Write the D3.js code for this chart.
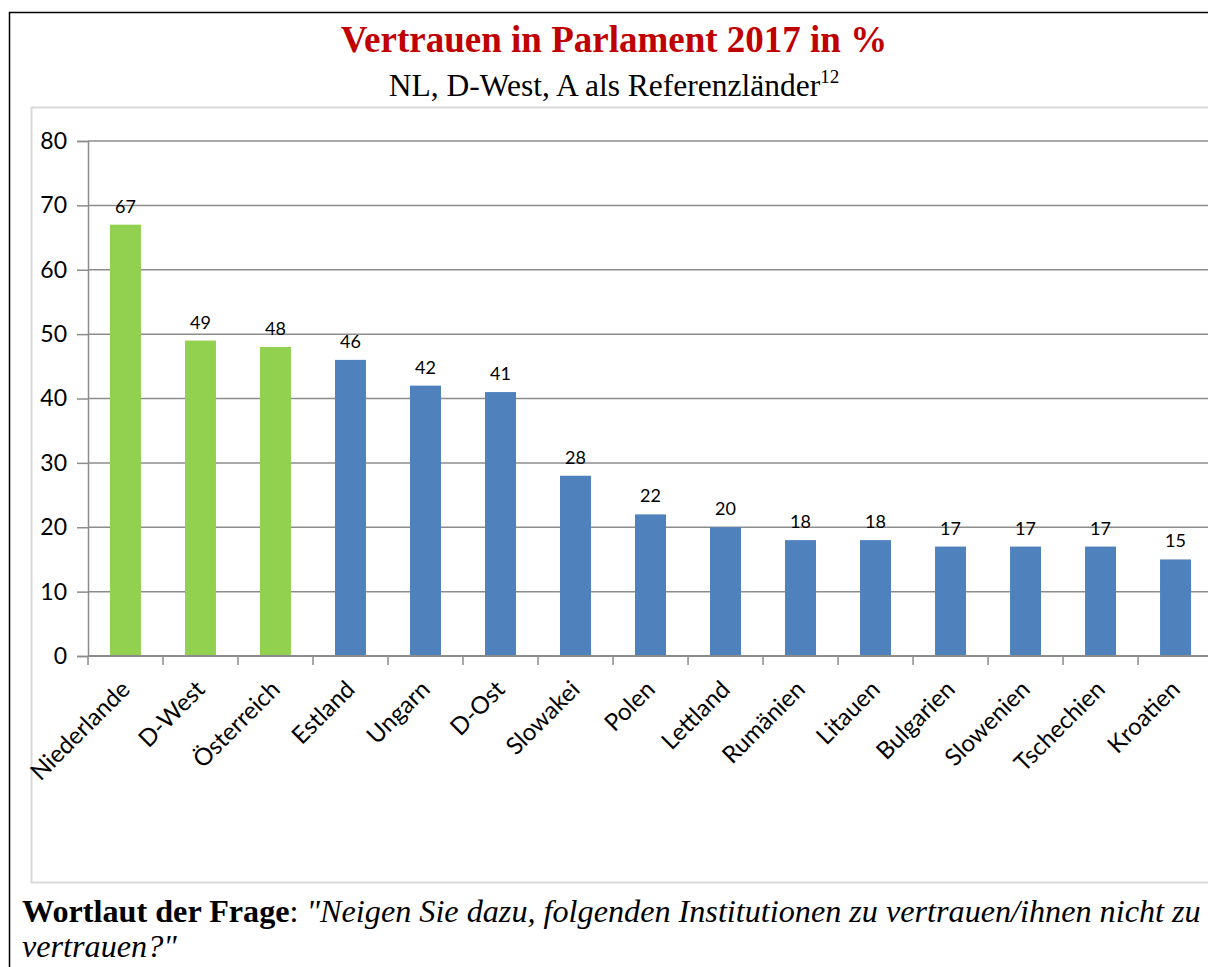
<!DOCTYPE html>
<html><head><meta charset="utf-8">
<script src="https://cdn.jsdelivr.net/npm/d3@7"></script>
<style>body{margin:0;background:#fff}svg{display:block}</style>
</head><body>
<svg id="c" width="1208" height="967"></svg>
<script>
const categories = ["Niederlande","D-West","Österreich","Estland","Ungarn","D-Ost","Slowakei","Polen","Lettland","Rumänien","Litauen","Bulgarien","Slowenien","Tschechien","Kroatien"];
const values = [67,49,48,46,42,41,28,22,20,18,18,17,17,17,15];
const reference = [true,true,true,false,false,false,false,false,false,false,false,false,false,false,false];
const yTicks = [0,10,20,30,40,50,60,70,80];

const svg = d3.select("#c");
// outer border
svg.append("path").attr("d","M9.5,967 V12.5 H1208").attr("fill","none").attr("stroke","#000").attr("stroke-width",1.5);
// inner chart frame
svg.append("rect").attr("x",31.5).attr("y",107.5).attr("width",1190).attr("height",775).attr("fill","#fff").attr("stroke","#d9d9d9").attr("stroke-width",2);

// title
svg.append("text").attr("x",614).attr("y",52).attr("text-anchor","middle")
  .attr("font-family","'Liberation Serif','Times New Roman',serif").attr("font-weight","bold")
  .attr("font-size",37).attr("fill","#c00000").text("Vertrauen in Parlament 2017 in %");
const sub = svg.append("text").attr("x",614).attr("y",96).attr("text-anchor","middle")
  .attr("font-family","'Liberation Serif','Times New Roman',serif").attr("font-size",31.5).attr("fill","#000");
sub.append("tspan").text("NL, D-West, A als Referenzländer");
sub.append("tspan").attr("font-size",19).attr("dy",-13).text("12");

const x = d3.scaleBand().domain(categories).range([88,1213]).paddingInner(0.587).paddingOuter(0.293);
const y = d3.scaleLinear().domain([0,80]).range([656,141]);

// gridlines
svg.append("g").selectAll("line").data(yTicks.filter(d=>d>0)).join("line")
  .attr("x1",88).attr("x2",1208).attr("y1",d=>y(d)).attr("y2",d=>y(d))
  .attr("stroke","#8c8c8c").attr("stroke-width",1.5);

// y axis
const yAxis = svg.append("g").attr("transform","translate(88,0)")
  .call(d3.axisLeft(y).tickValues(yTicks).tickSize(11).tickPadding(10));
yAxis.select(".domain").attr("stroke","#8c8c8c").attr("stroke-width",1.5);
yAxis.selectAll(".tick line").attr("stroke","#8c8c8c").attr("stroke-width",1.5);
yAxis.selectAll(".tick text").attr("font-family","Lato,'Open Sans',sans-serif").attr("font-size",23).attr("fill","#000");

// bars
svg.append("g").selectAll("rect").data(categories).join("rect")
  .attr("x",d=>x(d)).attr("width",x.bandwidth())
  .attr("y",(d,i)=>y(values[i])).attr("height",(d,i)=>y(0)-y(values[i]))
  .attr("fill",(d,i)=>reference[i]?"#92d050":"#4f81bd");

// value labels
svg.append("g").selectAll("text").data(categories).join("text")
  .attr("x",d=>x(d)+x.bandwidth()/2).attr("y",(d,i)=>y(values[i])-12)
  .attr("text-anchor","middle").attr("font-family","Lato,'Open Sans',sans-serif").attr("font-size",18).attr("fill","#000")
  .text((d,i)=>values[i]);

// x axis
const step = x.step();
svg.append("line").attr("x1",88).attr("x2",1208).attr("y1",656).attr("y2",656).attr("stroke","#8c8c8c").attr("stroke-width",2);
svg.append("g").selectAll("line").data(d3.range(categories.length+1)).join("line")
  .attr("x1",i=>88+i*step).attr("x2",i=>88+i*step).attr("y1",656).attr("y2",665)
  .attr("stroke","#8c8c8c").attr("stroke-width",1.5);
svg.append("g").selectAll("text").data(categories).join("text")
  .attr("transform",d=>`translate(${x(d)+x.bandwidth()/2-6},679) rotate(-45)`)
  .attr("text-anchor","end").attr("dy","0.7em")
  .attr("font-family","Lato,'Open Sans',sans-serif").attr("font-size",24).attr("fill","#000")
  .text(d=>d);

// footer
const f1 = svg.append("text").attr("x",22).attr("y",922).attr("font-family","'Liberation Serif','Times New Roman',serif").attr("font-size",32.2).attr("fill","#000");
f1.append("tspan").attr("font-weight","bold").text("Wortlaut der Frage");
f1.append("tspan").text(": ");
f1.append("tspan").attr("font-style","italic").text("\"Neigen Sie dazu, folgenden Institutionen zu vertrauen/ihnen nicht zu");
svg.append("text").attr("x",22).attr("y",957).attr("font-family","'Liberation Serif','Times New Roman',serif").attr("font-size",32.2).attr("font-style","italic").attr("fill","#000").text("vertrauen?\"");
</script>
</body></html>
